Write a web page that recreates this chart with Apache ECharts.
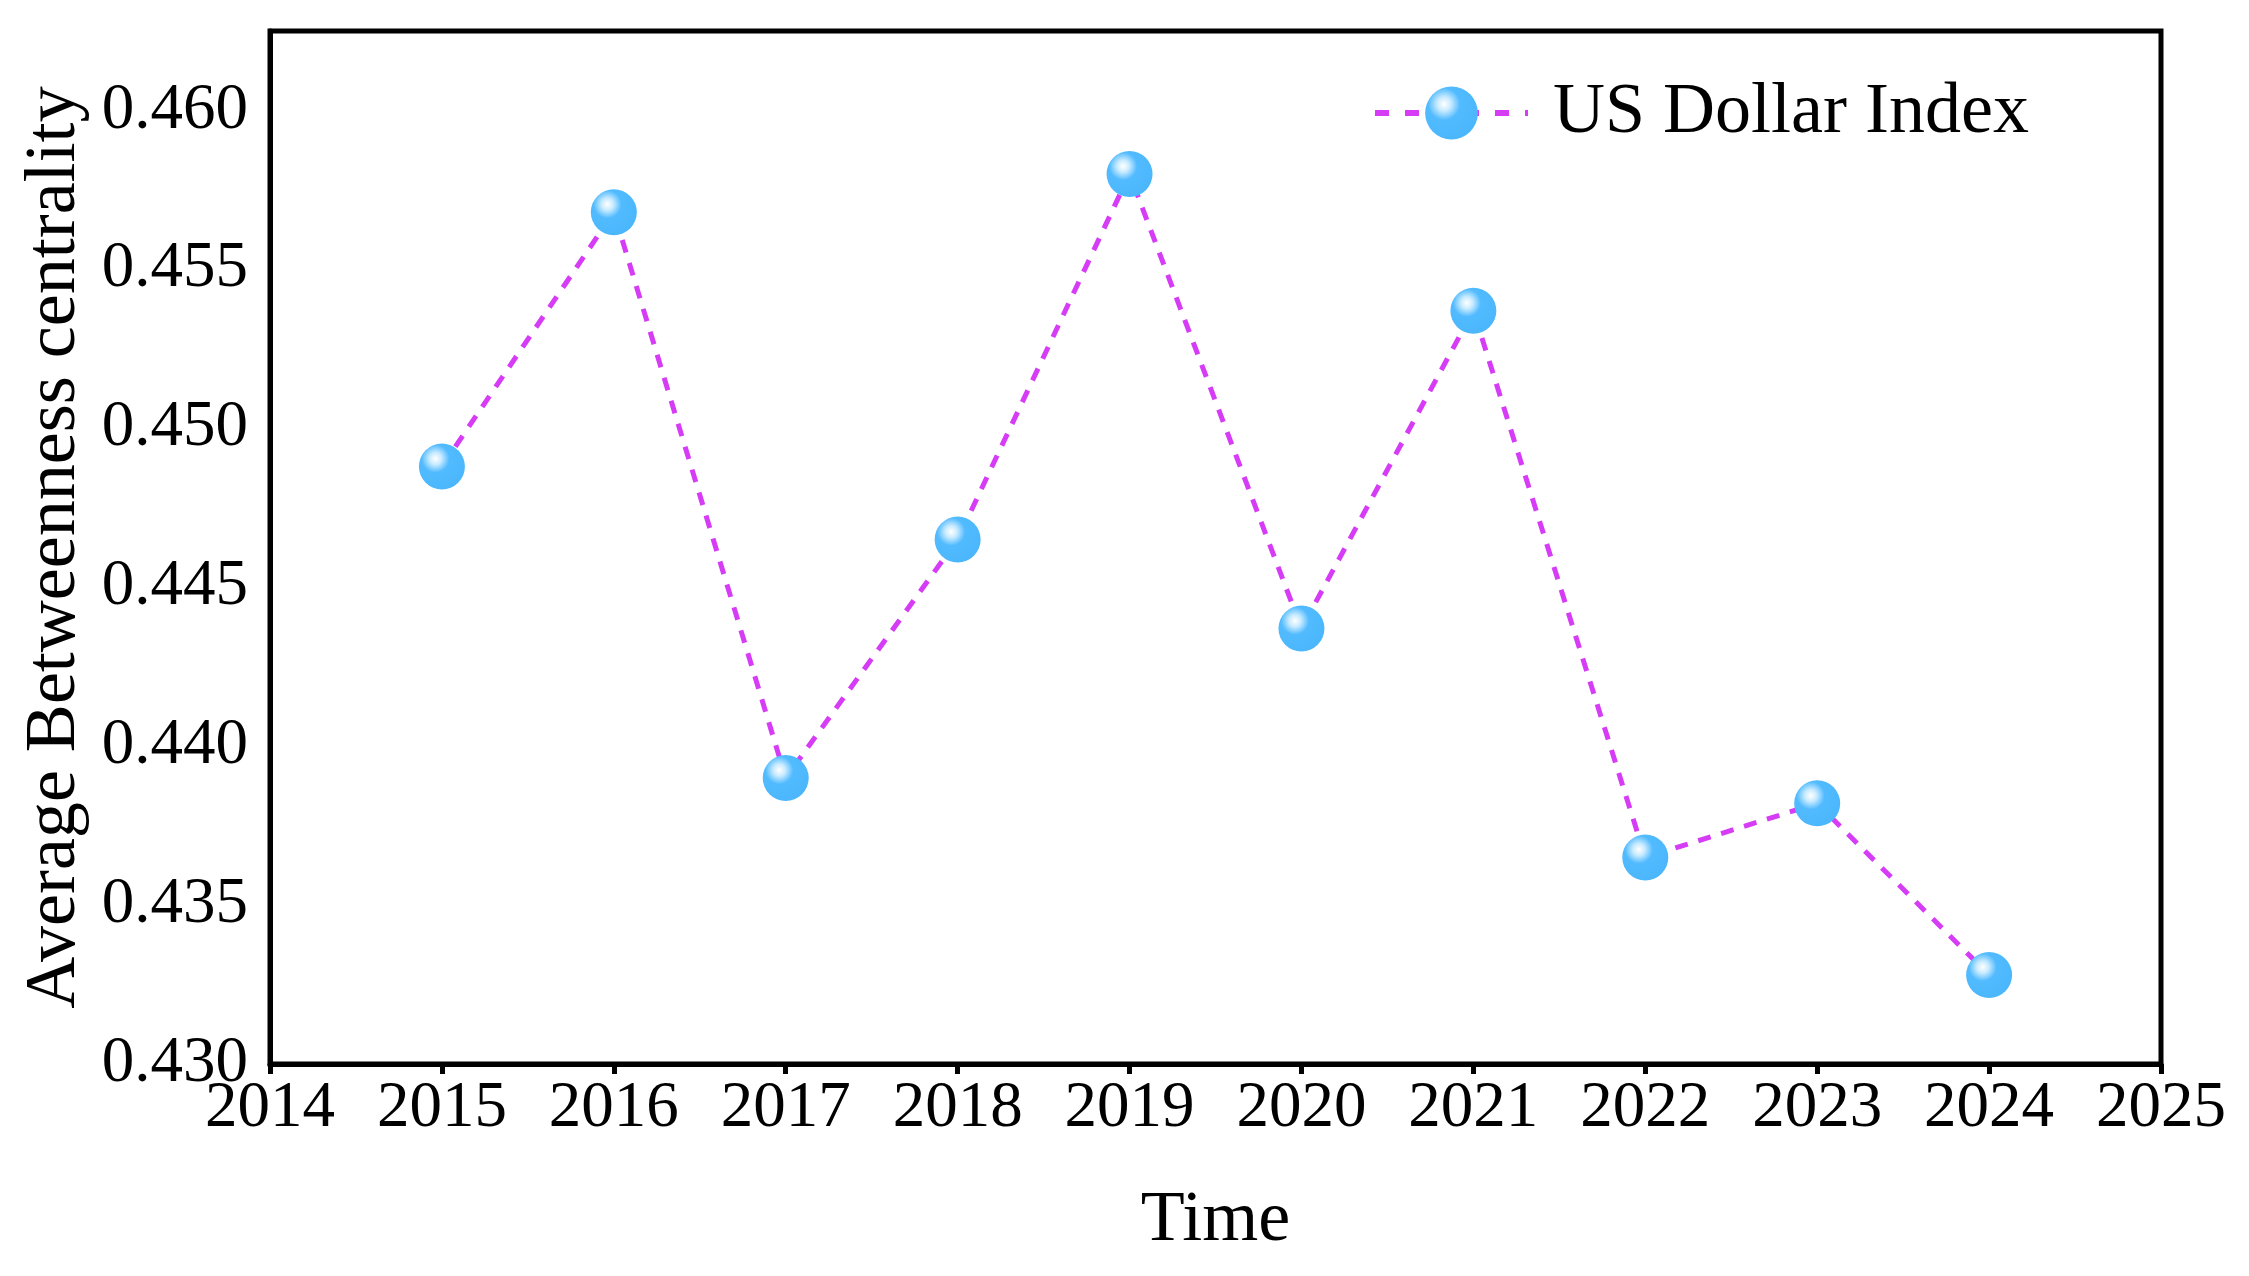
<!DOCTYPE html>
<html>
<head>
<meta charset="utf-8">
<script src="https://cdn.jsdelivr.net/npm/echarts@6/dist/echarts.min.js"></script>
<style>html,body{margin:0;padding:0;background:#fff}#c{width:2249px;height:1276px}</style>
</head>
<body>
<div id="c"></div>
<script>
const years = [2015, 2016, 2017, 2018, 2019, 2020, 2021, 2022, 2023, 2024];
const usDollarIndex = [0.4488, 0.4568, 0.4390, 0.4465, 0.4580, 0.4437, 0.4537, 0.4365, 0.4382, 0.4328];
const seriesName = 'US Dollar Index';
const xTitle = 'Time';
const yTitle = 'Average Betweenness centrality';

const font = '"Liberation Serif","Times New Roman",serif';
const ball = {
  type: 'radial', x: 0.36, y: 0.33, r: 0.72,
  colorStops: [
    {offset: 0, color: '#ffffff'},
    {offset: 0.18, color: '#c9ebff'},
    {offset: 0.42, color: '#52bbff'},
    {offset: 1, color: '#4ab6fb'}
  ]
};
const chart = echarts.init(document.getElementById('c'));
chart.setOption({
  animation: false,
  backgroundColor: '#fff',
  grid: {left: 270, top: 31, right: 88, bottom: 212, show: true, borderColor: '#000', borderWidth: 5},
  legend: {
    show: true,
    left: 1367, top: 72,
    itemWidth: 153, itemHeight: 66, itemGap: 0,
    lineStyle: {width: 6, type: [14, 16], color: '#d63cf6'},
    textStyle: {fontFamily: font, fontSize: 72, color: '#000', padding: [0, 0, 0, 20]},
    data: [{name: seriesName}]
  },
  xAxis: {
    type: 'value', min: 2014, max: 2025, interval: 1,
    name: xTitle, nameLocation: 'middle', nameGap: 121,
    nameTextStyle: {fontFamily: font, fontSize: 72, color: '#000'},
    axisLine: {show: true, lineStyle: {color: '#000', width: 5}},
    axisTick: {show: true, inside: false, length: 10, lineStyle: {color: '#000', width: 5}},
    axisLabel: {fontFamily: font, fontSize: 65, color: '#000', margin: 12, formatter: v => String(v)},
    splitLine: {show: false}
  },
  yAxis: {
    type: 'value', min: 0.430, max: 0.4625, interval: 0.005,
    name: yTitle, nameLocation: 'middle', nameGap: 177,
    nameTextStyle: {fontFamily: font, fontSize: 72, color: '#000'},
    axisLine: {show: true, lineStyle: {color: '#000', width: 5}},
    axisTick: {show: false},
    axisLabel: {fontFamily: font, fontSize: 65, color: '#000', margin: 22,
      formatter: v => v.toFixed(3), showMaxLabel: false},
    splitLine: {show: false}
  },
  series: [{
    name: seriesName,
    type: 'line',
    data: years.map((y, i) => [y, usDollarIndex[i]]),
    symbol: 'circle',
    symbolSize: 46,
    itemStyle: {color: ball, borderWidth: 0},
    lineStyle: {color: '#d63cf6', width: 5, type: [13, 11]},
    z: 3
  }]
});
</script>
</body>
</html>
